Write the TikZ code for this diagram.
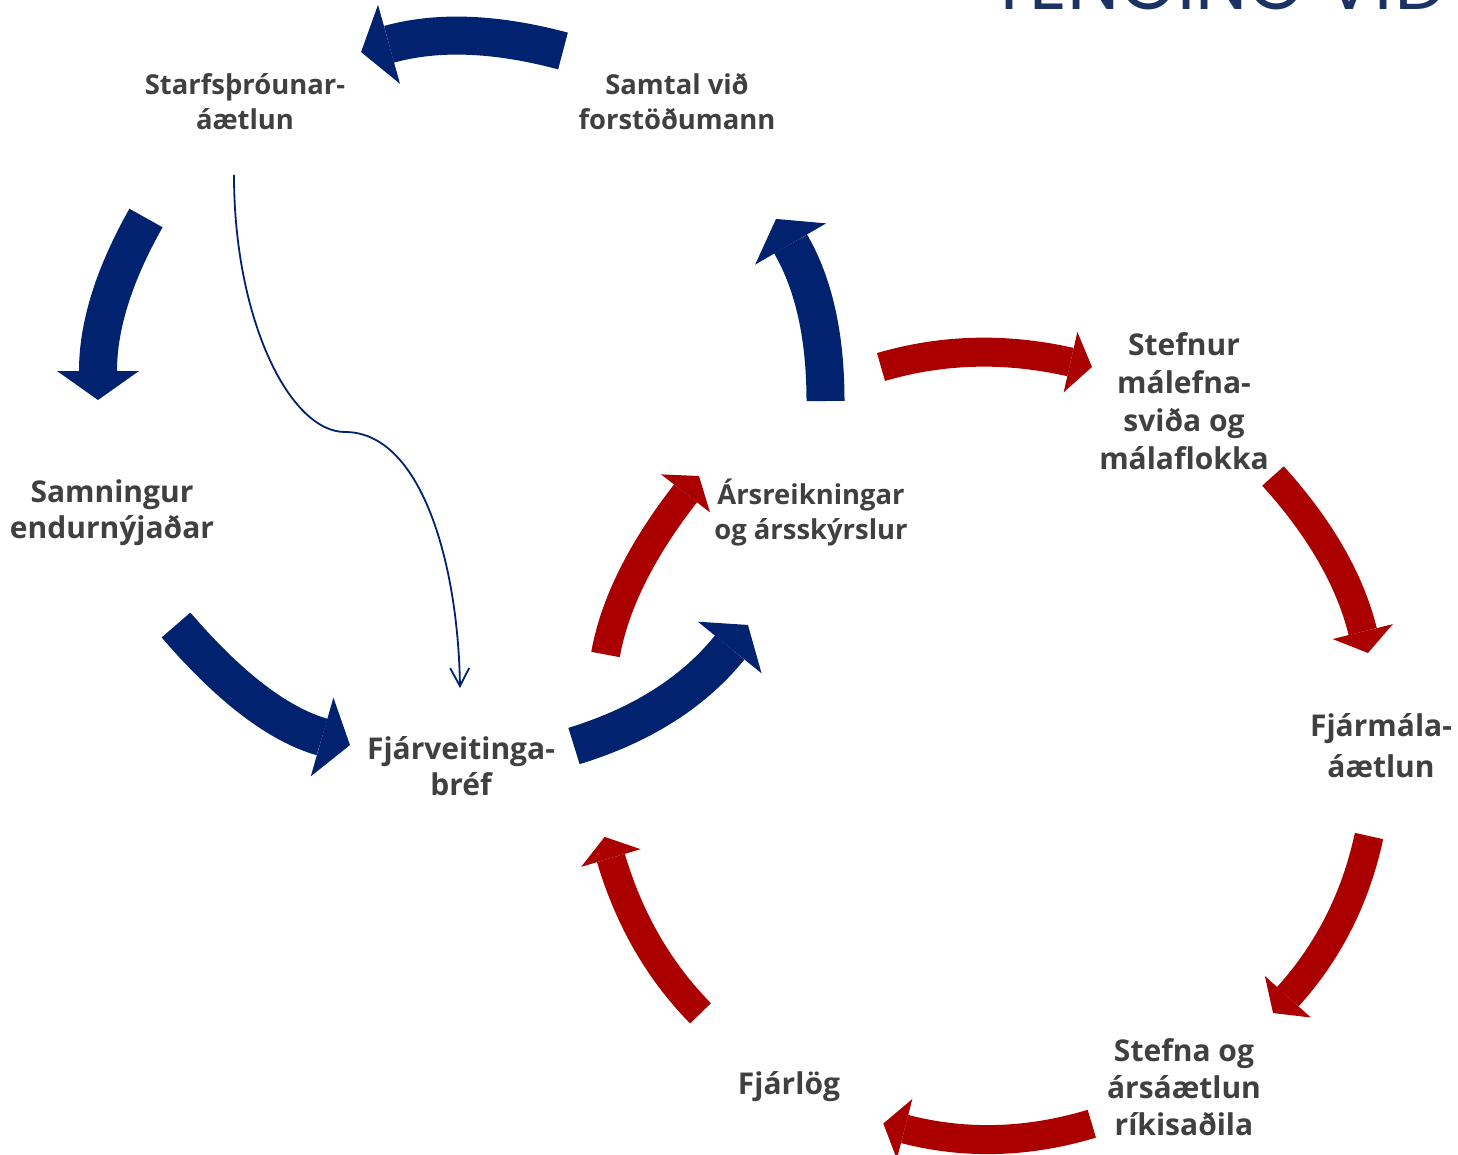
\documentclass[tikz,border=0pt]{standalone}
\usepackage{fontspec}
\setmainfont{Open Sans}
\newfontfamily\titlefont{Poppins}
\usetikzlibrary{arrows.meta,calc}
\definecolor{navy}{RGB}{0,34,111}
\definecolor{darkred}{RGB}{170,0,0}
\definecolor{txt}{RGB}{64,64,64}
\definecolor{ttl}{RGB}{28,50,98}
% quadratic curve from #2 to #4 with control point #3
\newcommand\qarrow[4]{\draw[#1] (#2) .. controls ($(#2)!0.6667!(#3)$) and ($(#4)!0.6667!(#3)$) .. (#4);}
\begin{document}
\begin{tikzpicture}[x=1pt,y=-1pt,
  lab/.style={font=\fontsize{30}{36}\selectfont\bfseries, text=txt, align=center, inner sep=0pt},
  smalllab/.style={lab, font=\fontsize{27.4}{35}\selectfont\bfseries},
  bluearrow/.style={draw=navy, line width=38pt, shorten >=-29pt, -{Triangle[width=82pt,length=29pt,line width=0pt]}},
  redarrow/.style={draw=darkred, line width=29pt, shorten >=-22pt, -{Triangle[width=62pt,length=22pt,line width=0pt]}},
  thinarrow/.style={draw=navy, line width=1.8pt, -{Straight Barb[length=18pt,width=19pt,line width=1.8pt]}}
]
\useasboundingbox (0,0) rectangle (1458,1155);

% title (cut off at top)
\node[font=\titlefont\fontsize{74}{80}\selectfont, text=ttl, anchor=base east, inner sep=0pt] (title) at (1447,10) {TENGING VIÐ};

% labels
\node[smalllab] (star) at (245,102) {Starfsþróunar-\\áætlun};
\node[smalllab] (samtal) at (677,102) {Samtal við\\forstöðumann};
\node[lab] (samn) at (112,513) {Samningur\\endurnýjaðar};
\node[lab] (fjarv) at (461,766) {Fjárveitinga-\\bréf};
\node[smalllab] (arsr) at (811,513) {Ársreikningar\\og ársskýrslur};
\node[lab, font=\fontsize{30}{38}\selectfont\bfseries] (stefnur) at (1184,401) {Stefnur\\málefna-\\sviða og\\málaflokka};
\node[lab, font=\fontsize{30}{41}\selectfont\bfseries] (fjarm) at (1381,746) {Fjármála-\\áætlun};
\node[lab, font=\fontsize{30}{37}\selectfont\bfseries] (stefna) at (1184,1087) {Stefna og\\ársáætlun\\ríkisaðila};
\node[lab] (fjarlog) at (789,1087) {Fjárlög};

% arrow start points, control points and head-base points
\coordinate (b1s) at (563,51);     \coordinate (b1c) at (462,24);      \coordinate (b1e) at (389,44.3);
\coordinate (b2s) at (146,218);    \coordinate (b2c) at (98,303);      \coordinate (b2e) at (98,371);
\coordinate (b3s) at (176,625);    \coordinate (b3c) at (256,718);     \coordinate (b3e) at (322.1,737);
\coordinate (b4s) at (574,746);    \coordinate (b4c) at (675,715);     \coordinate (b4e) at (729.7,647.5);
\coordinate (b5s) at (825.5,401);  \coordinate (b5c) at (825.5,304);   \coordinate (b5e) at (790.6,244);
\coordinate (r1s) at (881,367);    \coordinate (r1c) at (973,340);     \coordinate (r1e) at (1070.5,362.1);
\coordinate (r2s) at (1273,476);   \coordinate (r2c) at (1343.5,554);  \coordinate (r2e) at (1362.7,631.6);
\coordinate (r3s) at (1369,836);   \coordinate (r3c) at (1349,929);    \coordinate (r3e) at (1287.8,996.7);
\coordinate (r4s) at (1091.8,1123.7); \coordinate (r4c) at (995.7,1152.6); \coordinate (r4e) at (904.6,1129);
\coordinate (r5s) at (700.5,1013.3);  \coordinate (r5c) at (638.2,950);    \coordinate (r5e) at (610.9,858);
\coordinate (r6s) at (605.5,654.5);   \coordinate (r6c) at (619,579);      \coordinate (r6e) at (685.5,493.4);
\coordinate (ts) at (234,175);     \coordinate (tt) at (460,688);

% blue arrows
\qarrow{bluearrow}{b1s}{b1c}{b1e}
\qarrow{bluearrow}{b2s}{b2c}{b2e}
\qarrow{bluearrow}{b3s}{b3c}{b3e}
\qarrow{bluearrow}{b4s}{b4c}{b4e}
\qarrow{bluearrow}{b5s}{b5c}{b5e}

% red arrows
\qarrow{redarrow}{r1s}{r1c}{r1e}
\qarrow{redarrow}{r2s}{r2c}{r2e}
\qarrow{redarrow}{r3s}{r3c}{r3e}
\qarrow{redarrow}{r4s}{r4c}{r4e}
\qarrow{redarrow}{r5s}{r5c}{r5e}
\qarrow{redarrow}{r6s}{r6c}{r6e}

% thin arrow
\draw[thinarrow] (ts) .. controls (234,320) and (290,432) .. (345,432)
  .. controls (420,432) and (458,560) .. (tt);
\end{tikzpicture}
\end{document}
